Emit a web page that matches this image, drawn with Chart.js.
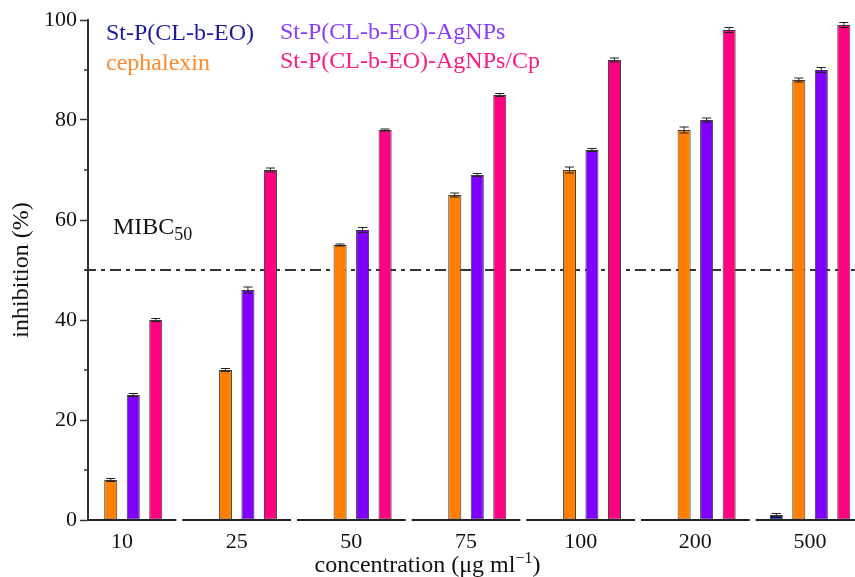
<!DOCTYPE html>
<html><head><meta charset="utf-8">
<script src="https://cdn.jsdelivr.net/npm/chart.js@4.4.1/dist/chart.umd.min.js"></script>
<style>html,body{margin:0;padding:0;background:#fff;overflow:hidden}canvas{display:block}</style>
</head><body>
<canvas id="c" width="855" height="577"></canvas>
<script>
const categories = ['10', '25', '50', '75', '100', '200', '500'];
const seriesNames = ['St-P(CL-b-EO)', 'cephalexin', 'St-P(CL-b-EO)-AgNPs', 'St-P(CL-b-EO)-AgNPs/Cp'];
const stpValues = [0, 0, 0, 0, 0, 0, 1];
const cephalexinValues = [8, 30, 55, 65, 70, 78, 88];
const agnpValues = [25, 46, 58, 69, 74, 80, 90];
const agnpCpValues = [40, 70, 78, 85, 92, 98, 99];
const stpErrors = [0, 0, 0, 0, 0, 0, 0.3];
const cephalexinErrors = [0.3, 0.3, 0.2, 0.4, 0.6, 0.6, 0.4];
const agnpErrors = [0.3, 0.6, 0.5, 0.3, 0.3, 0.4, 0.5];
const agnpCpErrors = [0.3, 0.4, 0.2, 0.3, 0.4, 0.5, 0.5];
const yTickValues = [0, 10, 20, 30, 40, 50, 60, 70, 80, 90, 100];
const mibcValue = 50;

const barColors = ['#00008b', '#ff8000', '#8000ff', '#ff0080'];
const textColors = ['#1c1c9c', '#ff8a2a', '#8a3cff', '#ff1a86'];
const SERIF = "'Liberation Serif', 'Times New Roman', serif";

const allValues = [stpValues, cephalexinValues, agnpValues, agnpCpValues];
const allErrors = [stpErrors, cephalexinErrors, agnpErrors, agnpCpErrors];

const datasets = allValues.map((vals, k) => ({
  label: seriesNames[k],
  data: vals.map((v, i) => ({ x: i, y: v })),
  errors: allErrors[k],
  backgroundColor: barColors[k],
  borderColor: '#3a3a3a',
  borderWidth: 1,
  borderSkipped: false,
  categoryPercentage: 0.785,
  barPercentage: 0.58
}));

const errorBarPlugin = {
  id: 'errorBars',
  afterDatasetsDraw(chart) {
    const ctx = chart.ctx, y = chart.scales.y;
    ctx.save();
    ctx.strokeStyle = '#222';
    ctx.lineWidth = 1;
    chart.data.datasets.forEach((ds, k) => {
      const meta = chart.getDatasetMeta(k);
      meta.data.forEach((bar, i) => {
        const v = ds.data[i].y, e = ds.errors[i];
        if (!e) return;
        const yt = y.getPixelForValue(v + e), yb = y.getPixelForValue(v - e);
        const hw = bar.width * 0.35;
        ctx.beginPath();
        ctx.moveTo(bar.x, yb); ctx.lineTo(bar.x, yt);
        ctx.moveTo(bar.x - hw, yt); ctx.lineTo(bar.x + hw, yt);
        ctx.moveTo(bar.x - hw, yb); ctx.lineTo(bar.x + hw, yb);
        ctx.stroke();
      });
    });
    ctx.restore();
  }
};

const decorPlugin = {
  id: 'decor',
  beforeDatasetsDraw(chart) {
    const ctx = chart.ctx, ys = chart.scales.y, a = chart.chartArea;
    ctx.save();
    const yl = ys.getPixelForValue(mibcValue);
    ctx.strokeStyle = '#333';
    ctx.lineWidth = 2;
    ctx.setLineDash([11, 5, 4, 5]);
    ctx.beginPath();
    ctx.moveTo(a.left - 3, yl); ctx.lineTo(a.right, yl);
    ctx.stroke();
    ctx.setLineDash([]);
    ctx.restore();
  },
  afterDatasetsDraw(chart) {
    const ctx = chart.ctx, xs = chart.scales.x, ys = chart.scales.y, a = chart.chartArea;
    ctx.save();
    ctx.strokeStyle = '#222';
    ctx.lineWidth = 2;
    categories.forEach((c, i) => {
      const x1 = Math.max(a.left, xs.getPixelForValue(i - 0.5) + 3);
      const x2 = Math.min(a.right, xs.getPixelForValue(i + 0.5) - 3);
      ctx.beginPath();
      ctx.moveTo(x1, a.bottom); ctx.lineTo(x2, a.bottom);
      ctx.stroke();
    });
    ctx.fillStyle = '#111';
    ctx.textBaseline = 'alphabetic';
    ctx.textAlign = 'left';
    ctx.font = '24px ' + SERIF;
    const mx = a.left + 25, my = ys.getPixelForValue(57.2);
    ctx.fillText('MIBC', mx, my);
    const mw = ctx.measureText('MIBC').width;
    ctx.font = '18px ' + SERIF;
    ctx.fillText('50', mx + mw, my + 6);
    ctx.font = '24px ' + SERIF;
    const pos = [[a.left + 18, 40], [a.left + 18, 70], [a.left + 192, 39], [a.left + 192, 68]];
    seriesNames.forEach((n, k) => {
      ctx.fillStyle = textColors[k];
      ctx.fillText(n, pos[k][0], pos[k][1]);
    });
    ctx.fillStyle = '#111';
    const w = chart.width;
    const t1 = 'concentration (\u03bcg ml', t2 = '\u22121', t3 = ')';
    ctx.font = '24px ' + SERIF;
    const w1 = ctx.measureText(t1).width, w3 = ctx.measureText(t3).width;
    ctx.font = '16px ' + SERIF;
    const w2 = ctx.measureText(t2).width;
    const x0 = w / 2 - (w1 + w2 + w3) / 2;
    const by = 572;
    ctx.font = '24px ' + SERIF;
    ctx.fillText(t1, x0, by);
    ctx.font = '16px ' + SERIF;
    ctx.fillText(t2, x0 + w1, by - 9);
    ctx.font = '24px ' + SERIF;
    ctx.fillText(t3, x0 + w1 + w2, by);
    ctx.restore();
  }
};

new Chart(document.getElementById('c'), {
  type: 'bar',
  data: { datasets },
  options: {
    responsive: false,
    animation: false,
    devicePixelRatio: 1,
    layout: { padding: { top: 20, left: 0, right: 0, bottom: 0 } },
    plugins: { legend: { display: false }, tooltip: { enabled: false } },
    scales: {
      x: {
        type: 'linear',
        min: -0.2965,
        max: 6.392,
        offset: false,
        grid: { display: false, drawTicks: false },
        border: { display: false },
        afterBuildTicks(s) { s.ticks = categories.map((c, i) => ({ value: i })); },
        ticks: {
          autoSkip: false,
          maxRotation: 0,
          padding: 9,
          color: '#111',
          font: { family: SERIF, size: 22 },
          callback: v => categories[v]
        },
        afterFit(s) { s.height = 57; }
      },
      y: {
        min: 0,
        max: 100,
        afterBuildTicks(s) { s.ticks = yTickValues.map(v => ({ value: v })); },
        grid: {
          drawOnChartArea: false,
          drawTicks: true,
          tickLength: 8,
          tickWidth: 1.5,
          tickColor: c => (c.tick && c.tick.value % 20 === 0) ? '#333' : 'rgba(0,0,0,0)'
        },
        border: { display: true, color: '#333', width: 2 },
        ticks: {
          padding: 3,
          color: '#111',
          font: { family: SERIF, size: 22 },
          callback: v => (v % 20 === 0 ? String(v) : '')
        },
        title: {
          display: true,
          text: 'inhibition (%)',
          color: '#111',
          font: { family: SERIF, size: 24 },
          padding: { top: 7, bottom: 0 }
        },
        afterFit(s) { s.width = 88; }
      }
    }
  },
  plugins: [decorPlugin, errorBarPlugin, {
    id: 'minorTicks',
    afterDraw(chart) {
      const ctx = chart.ctx, ys = chart.scales.y, a = chart.chartArea;
      ctx.save();
      ctx.strokeStyle = '#333';
      ctx.lineWidth = 1.5;
      yTickValues.filter(v => v % 20 !== 0).forEach(v => {
        const yp = ys.getPixelForValue(v);
        ctx.beginPath();
        ctx.moveTo(a.left - 4, yp); ctx.lineTo(a.left, yp);
        ctx.stroke();
      });
      ctx.restore();
    }
  }]
});
</script>
</body></html>
